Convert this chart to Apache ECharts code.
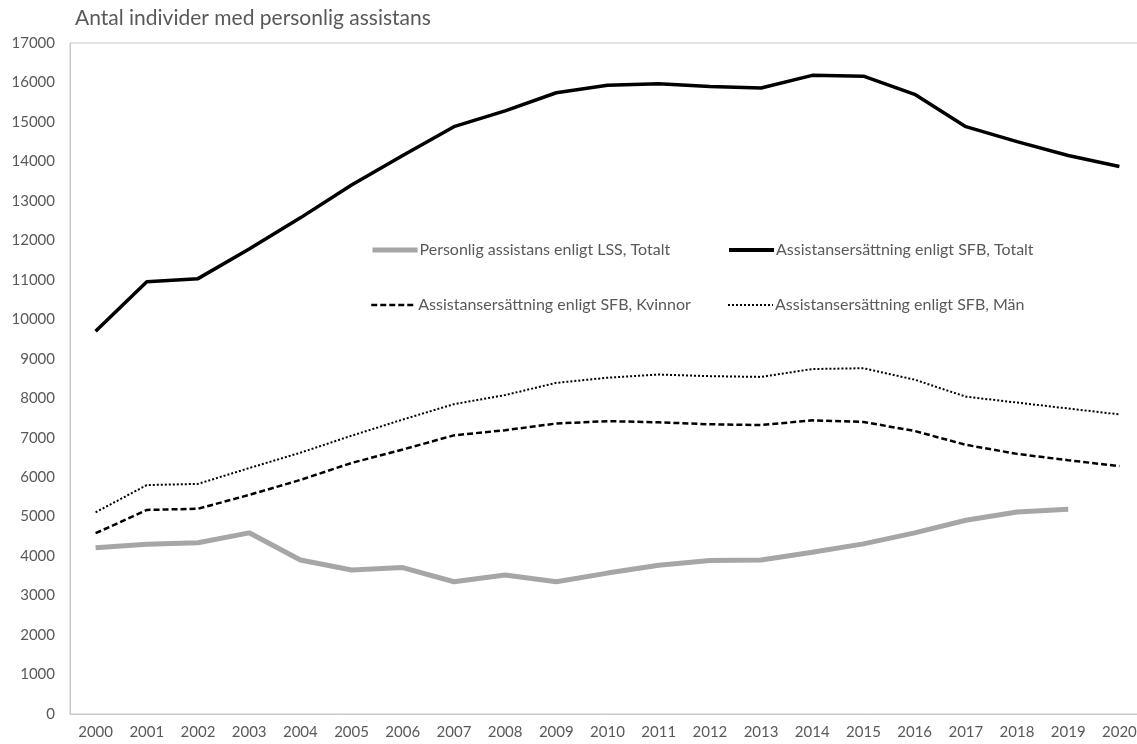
<!DOCTYPE html>
<html><head><meta charset="utf-8">
<script src="https://cdn.jsdelivr.net/npm/echarts@6/dist/echarts.min.js"></script>
<style>html,body{margin:0;padding:0;background:#fff}#c{width:1137px;height:744px}</style>
</head><body><div id="c"></div>
<script>
const years = ['2000','2001','2002','2003','2004','2005','2006','2007','2008','2009','2010','2011','2012','2013','2014','2015','2016','2017','2018','2019','2020'];
const lssTotalt = [4210,4300,4340,4590,3900,3650,3710,3350,3520,3350,3570,3770,3890,3900,4100,4310,4590,4910,5120,5190,null];
const sfbTotalt = [9700,10950,11030,11780,12570,13400,14150,14880,15280,15740,15930,15970,15900,15860,16180,16160,15700,14880,14500,14150,13870];
const sfbKvinnor = [4580,5170,5200,5550,5930,6360,6700,7060,7190,7360,7420,7390,7340,7320,7440,7400,7170,6820,6590,6430,6280];
const sfbMan = [5110,5800,5830,6230,6620,7050,7460,7850,8080,8390,8520,8600,8560,8540,8740,8760,8470,8040,7890,7740,7590];
const names = ['Personlig assistans enligt LSS, Totalt','Assistansersättning enligt SFB, Totalt','Assistansersättning enligt SFB, Kvinnor','Assistansersättning enligt SFB, Män'];
const titleText = 'Antal individer med personlig assistans';

const font = 'Lato, "Open Sans", sans-serif';
const txt = '#595959';
const chart = echarts.init(document.getElementById('c'));
function leg(name, left, top, lw){
  return {data:[name], left:left, top:top, padding:0, itemWidth:45, itemHeight:14, itemGap:0,
    itemStyle:{opacity:0}, lineStyle:{width:lw},
    textStyle:{color:txt, fontSize:16, fontFamily:font, padding:[0,0,0,-3]}};
}
chart.setOption({
  animation:false,
  title:{text:titleText, left:75, top:8, padding:0, textStyle:{color:txt, fontSize:21, fontWeight:'normal', fontFamily:font}},
  legend:[leg(names[0],370,242,5), leg(names[1],727,242,4), leg(names[2],370,297,2.5), leg(names[3],727,297,2)],
  grid:{left:70, right:-8, top:43, bottom:30, show:true, borderColor:'#c8c8c8', borderWidth:1, outerBoundsMode:'none', containLabel:false},
  xAxis:{type:'category', data:years, boundaryGap:true,
    axisLine:{show:true, lineStyle:{color:'#c8c8c8'}}, axisTick:{show:false},
    axisLabel:{color:txt, fontSize:15, fontFamily:font, margin:11, interval:0}},
  yAxis:{type:'value', min:0, max:17000, interval:1000,
    axisLine:{show:true, lineStyle:{color:'#c8c8c8'}}, axisTick:{show:false}, splitLine:{show:false},
    axisLabel:{color:txt, fontSize:15, fontFamily:font, margin:15, formatter:function(v){return String(v);}}},
  series:[
    {name:names[0], type:'line', data:lssTotalt, symbol:'none', lineStyle:{color:'#a6a6a6', width:5}, itemStyle:{color:'#a6a6a6'}},
    {name:names[1], type:'line', data:sfbTotalt, symbol:'none', lineStyle:{color:'#000', width:3.5}, itemStyle:{color:'#000'}},
    {name:names[2], type:'line', data:sfbKvinnor, symbol:'none', lineStyle:{color:'#000', width:2.5, type:[6,3]}, itemStyle:{color:'#000'}},
    {name:names[3], type:'line', data:sfbMan, symbol:'none', lineStyle:{color:'#000', width:2, type:[2,2]}, itemStyle:{color:'#000'}}
  ]
});
</script></body></html>
